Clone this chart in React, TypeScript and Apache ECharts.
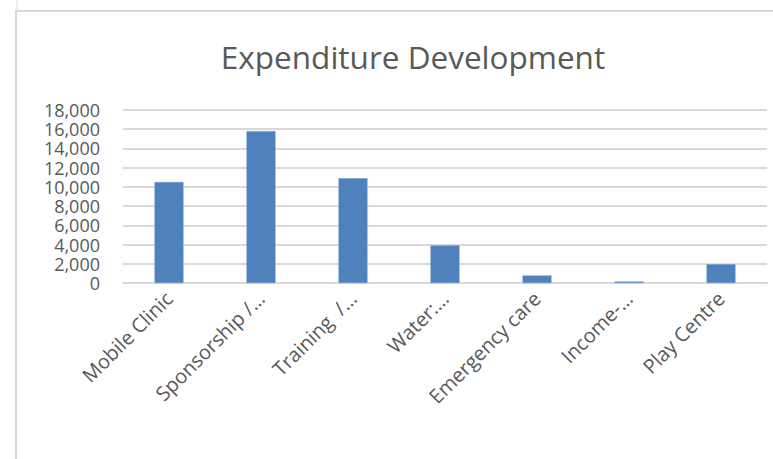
import React, { useEffect, useRef } from "react";
import * as echarts from "echarts";

const categories = [
  "Mobile Clinic",
  "Sponsorship /…",
  "Training  /…",
  "Water:…",
  "Emergency care",
  "Income-…",
  "Play Centre",
];
const expenditure = [10500, 15800, 10900, 3900, 780, 150, 1950];
const yTicks = [0, 2000, 4000, 6000, 8000, 10000, 12000, 14000, 16000, 18000];

const TEXT = "#595959";
const GRID = "#d9d9d9";
const FONT = "'Open Sans', 'Noto Sans', sans-serif";

export default function App() {
  const ref = useRef<HTMLDivElement>(null);
  useEffect(() => {
    if (!ref.current) return;
    const chart = echarts.init(ref.current, undefined, { renderer: "svg" });
    chart.setOption({
      animation: false,
      backgroundColor: "#ffffff",
      title: {
        text: "Expenditure Development",
        left: 408,
        top: 35,
        textAlign: "center",
        textStyle: { color: TEXT, fontSize: 31.5, fontWeight: "normal", fontFamily: FONT },
      },
      graphic: [
        { type: "line", shape: { x1: 17, y1: 0, x2: 17, y2: 11 }, style: { stroke: GRID, lineWidth: 1 } },
        { type: "rect", shape: { x: 16, y: 11, width: 800, height: 500 }, style: { fill: "none", stroke: GRID, lineWidth: 2 } },
      ],
      grid: { left: 123, right: 6, top: 110, bottom: 176, containLabel: false },
      xAxis: {
        type: "category",
        data: categories,
        axisLine: { show: true, lineStyle: { color: GRID, width: 2 } },
        axisTick: { show: false },
        axisLabel: {
          interval: 0,
          rotate: 45,
          margin: 12,
          color: TEXT,
          fontSize: 20,
          fontFamily: FONT,
        },
      },
      yAxis: {
        type: "value",
        min: 0,
        max: 18000,
        interval: 2000,
        axisLine: { show: false },
        axisTick: { show: false },
        splitLine: { lineStyle: { color: GRID, width: 2 } },
        axisLabel: {
          color: TEXT,
          fontSize: 18,
          lineHeight: 16,
          fontFamily: FONT,
          margin: 23,
          showMinLabel: true,
          showMaxLabel: true,
          hideOverlap: false,
          formatter: (v: number) => (yTicks.includes(v) ? v.toLocaleString("en-US") : ""),
        },
      },
      series: [
        {
          type: "bar",
          data: expenditure,
          barWidth: "31.5%",
          itemStyle: { color: "#4f81bd", borderColor: "#6b95c9", borderWidth: 0.5 },
        },
      ],
    });
    return () => chart.dispose();
  }, []);
  return (
    <div
      ref={ref}
      style={{ position: "absolute", left: 0, top: 0, width: 773, height: 459 }}
    />
  );
}
